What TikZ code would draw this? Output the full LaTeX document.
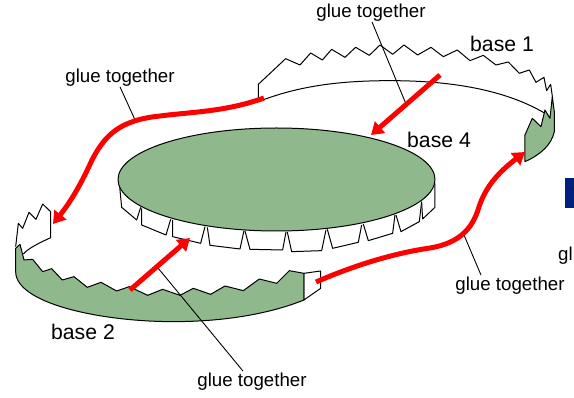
\documentclass[tikz,border=0pt]{standalone}
\usepackage{fontspec}
\setmainfont{Liberation Sans}
\usetikzlibrary{arrows.meta}
\definecolor{basegreen}{RGB}{143,184,141}
\definecolor{navyblock}{RGB}{0,32,128}
\tikzset{
  part/.style={draw=black,line width=1pt,line join=round},
  greenpart/.style={part,fill=basegreen},
  tabpart/.style={part,fill=white},
  leader/.style={draw=black,line width=0.9pt},
  redarrow/.style={draw=red,line width=5pt,-{Triangle[length=12pt,width=15pt]}},
  gluelabel/.style={inner sep=0pt,font=\fontsize{18.7pt}{21pt}\selectfont},
  baselabel/.style={inner sep=0pt,font=\fontsize{21.2pt}{24pt}\selectfont},
  zoomA/.style={shift={(240,30)},x=0.3333pt,y=-0.3333pt},
  zoomB/.style={shift={(0,180)},x=0.3333pt,y=-0.3333pt},
  zoomC/.style={shift={(110,120)},x=0.3333pt,y=-0.3333pt},
}
\begin{document}
\begin{tikzpicture}[x=1pt,y=-1pt]
\useasboundingbox (0,0) rectangle (574,398);

% base 1
\begin{scope}[zoomA]
\draw[part] (915,250) .. controls (780,170) and (600,152) .. (450,152)
  .. controls (290,152) and (170,170) .. (55,215) -- (55,163) -- (137,86) -- (180,105) -- (212,69) -- (247,90) -- (275,58) -- (315,82) -- (347,52) -- (388,76) -- (420,45) -- (458,73) -- (492,45) -- (533,75) -- (573,52) -- (610,80) -- (652,60) -- (690,92) -- (730,76) -- (768,105) -- (805,96) -- (838,130) -- (868,120) -- (888,157) -- (912,142) -- (920,182) -- (932,163) -- (938,205);
\draw[greenpart] (855,395) -- (855,315) -- (877,265) -- (903,290) -- (915,240) -- (930,265) -- (937,200) -- (943,245) -- (943,305) .. controls (935,345) and (900,375) .. cycle;
\end{scope}

% base 2
\begin{scope}[zoomB]
\draw[tabpart] (47,200) -- (55,130) -- (68,145) -- (87,97) -- (108,118) -- (128,72) -- (152,95) -- (152,173) .. controls (115,190) and (85,205) .. (70,222);
\draw[tabpart] (912,280) -- (962,273) -- (962,325) -- (912,360) -- cycle;
\draw[greenpart] (47,205) -- (60,193) -- (72,240) -- (98,238) -- (128,275) -- (155,266) -- (187,300) -- (222,290) -- (262,322) -- (303,307) -- (350,333) -- (388,320) -- (443,346) -- (488,328) -- (540,346) -- (580,325) -- (632,343) -- (675,318) -- (730,332) -- (778,297) -- (830,310) -- (868,272) -- (912,280) -- (912,360)
  .. controls (800,405) and (660,425) .. (520,425) .. controls (300,425) and (47,370) .. (47,275) -- cycle;
\end{scope}

% base 4
\begin{scope}[zoomC]
\draw[tabpart] (28,190) -- (35,262) -- (80,300) -- (92,262);
\draw[tabpart] (95,265) -- (95,315) -- (168,345) -- (182,298);
\draw[tabpart] (188,300) -- (188,350) -- (272,370) -- (285,320);
\draw[tabpart] (292,322) -- (300,376) -- (390,387) -- (402,332);
\draw[tabpart] (405,333) -- (420,388) -- (518,390) -- (528,336);
\draw[tabpart] (532,336) -- (545,395) -- (635,392) -- (648,330);
\draw[tabpart] (652,328) -- (668,385) -- (745,367) -- (755,315);
\draw[tabpart] (760,312) -- (775,362) -- (848,340) -- (855,285);
\draw[tabpart] (858,285) -- (873,335) -- (928,305) -- (935,245);
\draw[tabpart] (935,245) -- (938,297) -- (975,262) -- (975,190);
\end{scope}
\draw[greenpart] (276.5,179.5) ellipse [x radius=158.5,y radius=51.5];

% named connector ends
\coordinate (a1) at (264,98);
\coordinate (a2) at (53,224);
\coordinate (b1) at (440,75);
\coordinate (b2) at (371,135);
\coordinate (c1) at (130,290);
\coordinate (c2) at (190,238);
\coordinate (d1) at (316,282);
\coordinate (d2) at (525,152);
\coordinate (e1) at (406,104);
\coordinate (e2) at (158,268);
\coordinate (e3) at (464,235);
\coordinate (e4) at (136,122);

% labels
\node[gluelabel] (glueT) at (371,13) {glue together};
\node[gluelabel] (glueL) at (120,78) {glue together};
\node[gluelabel] (glueR) at (510,286) {glue together};
\node[gluelabel] (glueB) at (252,382) {glue together};
\node[baselabel] (base1) at (502,44) {base 1};
\node[baselabel] (base4) at (439,140) {base 4};
\node[baselabel] (base2) at (83,332) {base 2};
\node[gluelabel,anchor=west] (glueX) at (558,256) {glu};
\fill[navyblock] (565,178) rectangle (574,208);

% leaders
\draw[leader] (glueT.south) ++(1,0) -- (e1);
\draw[leader] (glueL.south) -- (e4);
\draw[leader] (glueR.north) ++(-29,-2) -- (e3);
\draw[leader] (glueB.north) ++(-9,-2) -- (e2);

% red arrows
\draw[redarrow] (b1) -- (b2);
\draw[redarrow] (c1) -- (c2);
\draw[redarrow] (a1) .. controls (225,112) and (190,112) .. (160,116)
  .. controls (120,120) and (105,135) .. (92,160)
  .. controls (82,182) and (72,200) .. (a2);
\draw[redarrow] (d1) .. controls (355,265) and (395,253) .. (430,248)
  .. controls (460,243) and (472,228) .. (478,210)
  .. controls (484,190) and (495,175) .. (d2);
\end{tikzpicture}
\end{document}
